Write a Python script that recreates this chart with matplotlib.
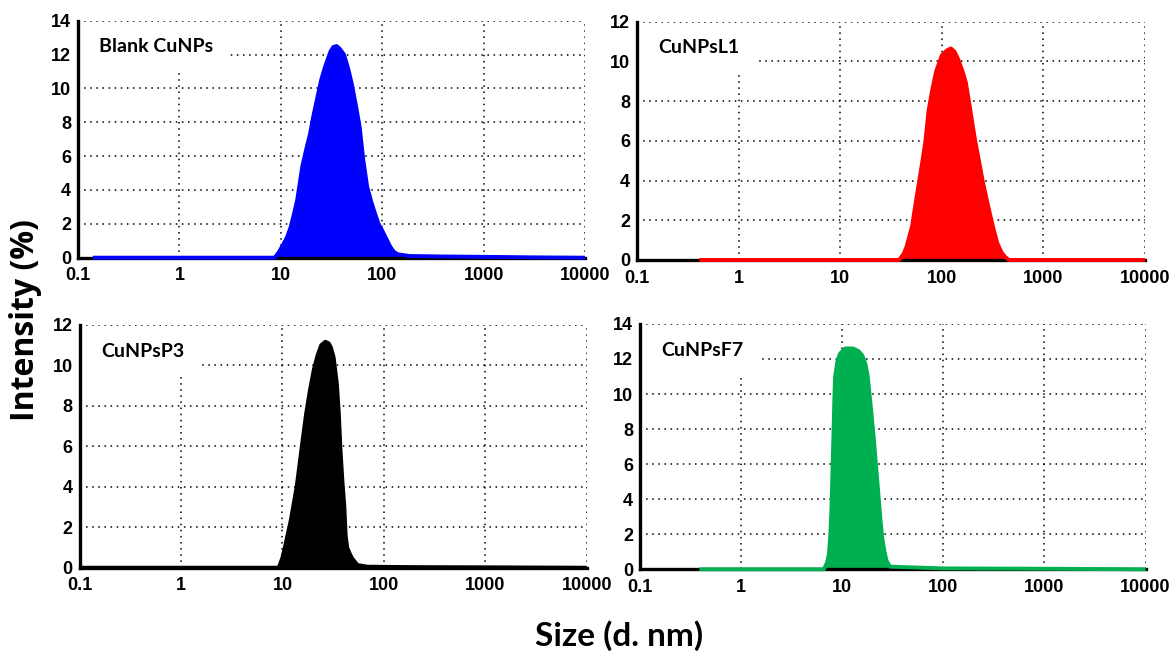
import matplotlib
matplotlib.use('Agg')
import matplotlib.pyplot as plt

# DLS size distributions (intensity %)
blank_size = [0.14, 1, 5, 8.7, 9.5, 10.5, 11.5, 12.5, 13.5, 14.5, 16.3, 17.8, 19.4, 21, 23,
              25, 27.4, 31, 33, 35.5, 38, 42, 46, 50, 55, 60, 65, 71, 78, 85, 92, 100,
              110, 120, 130, 142, 185, 400, 1000, 3000, 10000]
blank_int = [0, 0, 0, 0, 0.3, 0.75, 1.2, 1.8, 2.6, 3.4, 5.4, 6.4, 7.3, 8.4, 9.5,
             10.5, 11.3, 12.2, 12.45, 12.5, 12.35, 12.0, 11.2, 10.3, 9.0, 7.7, 5.8, 4.2, 3.3, 2.6, 2.0, 1.6,
             1.1, 0.65, 0.35, 0.2, 0.1, 0.07, 0.05, 0.02, 0]

l1_size = [0.41, 1, 10, 38, 42, 45, 51, 55, 60, 65, 69, 74, 80, 88, 100, 112, 123, 133,
           145, 160, 173, 190, 213, 232, 252, 275, 297, 325, 352, 385, 417, 457, 1000, 10000]
l1_int = [0, 0, 0, 0, 0.3, 0.67, 1.7, 2.8, 4.0, 5.1, 6.0, 7.5, 8.5, 9.5, 10.3, 10.55, 10.65, 10.5,
          10.1, 9.5, 8.9, 7.6, 6.0, 5.0, 4.0, 3.1, 2.35, 1.5, 0.84, 0.4, 0.17, 0, 0, 0]

p3_size = [0.1, 1, 5, 9.2, 10, 10.6, 12.1, 13.8, 15.8, 17.1, 18.7, 20.4, 22.2, 24.1, 26.5,
           28.5, 30, 32, 34.4, 36, 37.4, 39, 40.8, 42, 43.5, 46, 48.6, 55, 69, 200, 1000, 10000]
p3_int = [0, 0, 0, 0, 0.5, 1.04, 2.36, 4.0, 6.3, 7.6, 8.8, 9.8, 10.5, 11.0, 11.17,
          11.1, 10.9, 10.4, 9.1, 7.6, 5.8, 4.3, 3.0, 1.6, 1.0, 0.7, 0.46, 0.13, 0.05, 0.03, 0.02, 0]

f7_size = [0.386, 1, 5, 6.6, 7.1, 7.4, 7.6, 7.8, 8.0, 8.2, 8.35, 8.5, 9.0, 9.5, 10.7, 12.8,
           14.5, 15.8, 17, 17.9, 19, 20.3, 21.7, 23, 24, 25, 26.2, 27.4, 29.6, 100, 1000, 10000]
f7_int = [0, 0, 0, 0, 0.4, 0.9, 1.8, 3.2, 5.5, 7.8, 9.6, 11.0, 11.9, 12.3, 12.6, 12.6,
          12.45, 12.2, 11.7, 11.0, 9.5, 7.8, 5.8, 4.0, 2.7, 1.7, 1.0, 0.5, 0.15, 0.05, 0.03, 0]

names = ['Blank CuNPs', 'CuNPsL1', 'CuNPsP3', 'CuNPsF7']
colors = ['#0000FF', '#FF0000', '#000000', '#00B050']
ymax = [14, 12, 12, 14]
xticks = [0.1, 1, 10, 100, 1000, 10000]
xticklabels = ['0.1', '1', '10', '100', '1000', '10000']

sizes = [blank_size, l1_size, p3_size, f7_size]
intensities = [blank_int, l1_int, p3_int, f7_int]

tick_font = 'Liberation Sans'
label_font = ['Lato', 'DejaVu Sans']

fig = plt.figure(figsize=(11.71, 6.56), dpi=100)
positions = [
    [0.0666, 0.6072, 0.433, 0.3613],
    [0.544, 0.6037, 0.4338, 0.3633],
    [0.068, 0.1346, 0.433, 0.370],
    [0.5465, 0.1322, 0.4318, 0.374],
]

for i in range(4):
    ax = fig.add_axes(positions[i])
    ax.set_xscale('log')
    ax.fill_between(sizes[i], intensities[i], 0, color=colors[i], linewidth=0, zorder=2)
    ax.plot(sizes[i], intensities[i], color=colors[i], linewidth=2.8, zorder=3,
            solid_capstyle='butt', solid_joinstyle='round', clip_on=False)
    ax.set_xlim(0.1, 10000)
    ax.set_ylim(0, ymax[i])
    ax.set_yticks(range(0, ymax[i] + 1, 2))
    ax.set_xticks(xticks)
    ax.set_xticklabels(xticklabels)
    ax.minorticks_off()
    ax.set_axisbelow(True)
    ax.grid(True, color='black', linestyle=(0, (1, 3)), linewidth=1.1)
    for s in ['top', 'right']:
        ax.spines[s].set_visible(False)
    ax.spines['left'].set_linewidth(2.4)
    ax.spines['bottom'].set_linewidth(2.4)
    ax.tick_params(length=0, pad=7)
    ax.tick_params(axis='y', pad=5)
    for lab in ax.get_xticklabels() + ax.get_yticklabels():
        lab.set_fontfamily(tick_font)
        lab.set_fontweight('bold')
        lab.set_fontsize(13)
    ax.text(0.042, 0.89, names[i], transform=ax.transAxes, fontsize=14,
            fontweight='bold', family=label_font, va='center', ha='left', zorder=4,
            bbox=dict(boxstyle='square,pad=0.8', facecolor='white', edgecolor='none'))

fig.text(0.022, 0.512, 'Intensity (%)', rotation=90, ha='center', va='center',
         fontsize=23, fontweight='bold', family=['Open Sans', 'DejaVu Sans'])
fig.text(0.529, 0.031, 'Size (d. nm)', ha='center', va='center',
         fontsize=24, fontweight='bold', family=label_font)

fig.savefig('out.png', dpi=100)
